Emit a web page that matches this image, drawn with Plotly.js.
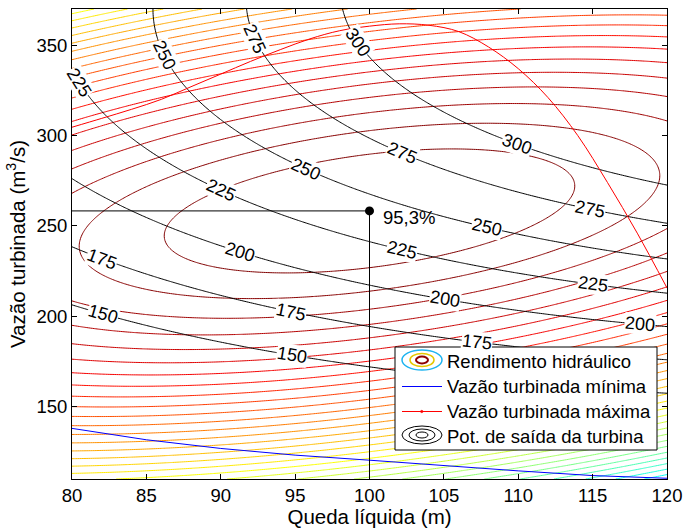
<!DOCTYPE html>
<html><head><meta charset="utf-8">
<script src="https://cdn.plot.ly/plotly-3.0.1.min.js"></script>
<style>body{margin:0;background:#fff}</style>
</head><body><div id="chart" style="width:684px;height:528px"></div>
<script>
// ---- axes ----
const headRange = [80, 120];
const flowRange = [110, 370];
const headTicks = [80, 85, 90, 95, 100, 105, 110, 115, 120];
const flowTicks = [150, 200, 250, 300, 350];

// ---- best efficiency point ----
const bepHead = [100];
const bepFlow = [258.3];
const bepEff = [95.3];
const bepLabel = ["95,3%"];

// ---- efficiency hill (first ring geometry and ring step) ----
const ringHalfWidthHead = [13.8];   // half width of first ring along the head axis (m)
const ringHalfHeightFlow = [31.4];  // half height of first ring at the BEP head (m3/s)
const ringShear = [1.0];            // tilt of the rings (m3/s per m)
const ringStep = [0.85];            // efficiency step between rings (%)
const ringCount = [60];

// ---- turbine output levels (MW) ----
const powerLevels = [150, 175, 200, 225, 250, 275, 300];
// contour labels: level and head where each label sits
const labelLevels = [225, 250, 275, 300, 225, 250, 275, 300, 275, 250, 225, 200, 175, 200, 225, 200, 175, 150, 150, 175];
const labelHeads  = [80.5, 86.2, 92.3, 99.2, 90.0, 95.7, 102.2, 109.9, 114.8, 107.9, 102.2, 91.3, 82.0, 105.1, 115.0, 118.2, 94.7, 82.1, 94.8, 107.2];

// ---- minimum turbined flow ----
const minFlowHead = [80, 85, 90, 95, 100, 105, 110, 115, 120];
const minFlowQ = [138.0, 131.7, 126.9, 123.2, 120.4, 117.4, 114.5, 111.9, 110.4];

// ---- maximum turbined flow ----
const maxFlowHead = [80, 82, 84, 86, 88, 90, 92, 94, 96, 98, 100, 102, 104, 106, 108, 110, 112, 114, 116, 118, 120];
const maxFlowQ = [304.6, 309.5, 314.5, 320, 327, 334, 341, 347.5, 353.5, 358, 360.5, 361.8, 361, 357.5, 349, 337, 321, 300, 274, 246, 215.7];

// ---- legend texts ----
const legendNames = ["Rendimento hidráulico", "Vazão turbinada mínima", "Vazão turbinada máxima", "Pot. de saída da turbina"];

// ---- model surfaces ----
const A = ringStep[0] / (ringHalfWidthHead[0] * ringHalfWidthHead[0]);
const B = ringStep[0] / (ringHalfHeightFlow[0] * ringHalfHeightFlow[0]);
function eff(h, q) {
  const u = h - bepHead[0], v = q - bepFlow[0] - ringShear[0] * u;
  return bepEff[0] - A * u * u - B * v * v;
}
function pow(h, q) { return 9.81 * h * q * eff(h, q) / 100 / 1000; } // P = rho g Q H eta (MW)

const gridH = [], gridQ = [];
for (let h = headRange[0]; h <= headRange[1] + 1e-9; h += 0.25) gridH.push(+h.toFixed(2));
for (let q = flowRange[0]; q <= flowRange[1] + 1e-9; q += 1) gridQ.push(q);
const effZ = gridQ.map(q => gridH.map(h => eff(h, q)));
const powZ = gridQ.map(q => gridH.map(h => pow(h, q)));

const jet = [[0, '#00008F'], [0.125, '#0000FF'], [0.375, '#00FFFF'], [0.625, '#FFFF00'], [0.875, '#FF0000'], [1, '#800000']];
const FONT = 'Liberation Sans, Arial, sans-serif';

const traces = [
  {
    type: 'contour', x: gridH, y: gridQ, z: effZ,
    autocontour: false,
    contours: { coloring: 'lines', start: bepEff[0] - ringCount[0] * ringStep[0], end: bepEff[0] - ringStep[0] + 1e-6, size: ringStep[0] },
    zauto: false, zmin: 54.8, zmax: 95.3, colorscale: jet, showscale: false,
    line: { width: 1, smoothing: 0.8 }, hoverinfo: 'skip', showlegend: false
  },
  {
    type: 'contour', x: gridH, y: gridQ, z: powZ,
    autocontour: false,
    contours: { coloring: 'none', start: powerLevels[0], end: powerLevels[powerLevels.length - 1], size: powerLevels[1] - powerLevels[0], showlabels: false },
    line: { color: '#000', width: 1, smoothing: 0.8 }, showscale: false, hoverinfo: 'skip', showlegend: false
  },
  { type: 'scatter', mode: 'lines', x: minFlowHead, y: minFlowQ, line: { color: '#0000FF', width: 1 }, showlegend: false, hoverinfo: 'skip' },
  { type: 'scatter', mode: 'lines', x: maxFlowHead, y: maxFlowQ, line: { color: '#FF0000', width: 1, shape: 'spline' }, showlegend: false, hoverinfo: 'skip' },
  { type: 'scatter', mode: 'lines', x: [headRange[0], bepHead[0], bepHead[0]], y: [bepFlow[0], bepFlow[0], flowRange[0]], line: { color: '#000', width: 1 }, showlegend: false, hoverinfo: 'skip' },
  { type: 'scatter', mode: 'markers', x: bepHead, y: bepFlow, marker: { color: '#000', size: 9 }, showlegend: false, hoverinfo: 'skip' }
];

// plot-area pixel helpers
const L = 72, R = 667, T = 9, Bt = 479;
const px = p => (p - L) / (R - L);
const py = p => (Bt - p) / (Bt - T);
const sx = (R - L) / (headRange[1] - headRange[0]);
const sy = (Bt - T) / (flowRange[1] - flowRange[0]);

// inline contour labels, placed on the power contours
const annotations = [];
labelLevels.forEach((lev, i) => {
  const h = labelHeads[i];
  let lo = flowRange[0], hi = flowRange[1];
  for (let k = 0; k < 60; k++) { const m = (lo + hi) / 2; if (pow(h, m) < lev) lo = m; else hi = m; }
  const q = (lo + hi) / 2, d = 0.01;
  const Ph = (pow(h + d, q) - pow(h - d, q)) / (2 * d);
  const Pq = (pow(h, q + d) - pow(h, q - d)) / (2 * d);
  const dQdH = -Ph / Pq;
  const ang = Math.atan2(-dQdH * sy, sx) * 180 / Math.PI;
  annotations.push({ x: h, y: q, xref: 'x', yref: 'y', xanchor: 'center', yanchor: 'middle', text: String(lev),
    textangle: ang, showarrow: false, bgcolor: '#fff', borderpad: 0, font: { family: FONT, size: 18, color: '#000' } });
});

const shapes = [
  { type: 'rect', xref: 'paper', yref: 'paper', x0: px(395), x1: px(657), y0: py(450), y1: py(347), fillcolor: '#fff', line: { color: '#000', width: 1 } },
  // efficiency icon
  { type: 'circle', xref: 'paper', yref: 'paper', x0: px(402), x1: px(442), y0: py(370), y1: py(350), line: { color: '#1EB4F0', width: 1.5 } },
  { type: 'circle', xref: 'paper', yref: 'paper', x0: px(410), x1: px(434), y0: py(366.5), y1: py(353.5), line: { color: '#E6C800', width: 1.5 } },
  { type: 'circle', xref: 'paper', yref: 'paper', x0: px(416), x1: px(428), y0: py(363.5), y1: py(356.5), line: { color: '#8C0000', width: 2 } },
  // min flow icon
  { type: 'line', xref: 'paper', yref: 'paper', x0: px(402), x1: px(442), y0: py(386.5), y1: py(386.5), line: { color: '#0000FF', width: 1 } },
  // max flow icon
  { type: 'line', xref: 'paper', yref: 'paper', x0: px(402), x1: px(442), y0: py(411.5), y1: py(411.5), line: { color: '#FF0000', width: 1 } },
  { type: 'circle', xref: 'paper', yref: 'paper', x0: px(420.5), x1: px(423), y0: py(412.7), y1: py(410.3), fillcolor: '#FF0000', line: { color: '#FF0000', width: 0.5 } },
  // power icon
  { type: 'circle', xref: 'paper', yref: 'paper', x0: px(402), x1: px(442), y0: py(444), y1: py(426), line: { color: '#000', width: 1 } },
  { type: 'circle', xref: 'paper', yref: 'paper', x0: px(409), x1: px(435), y0: py(441), y1: py(429), line: { color: '#000', width: 1 } },
  { type: 'circle', xref: 'paper', yref: 'paper', x0: px(416), x1: px(428), y0: py(438), y1: py(432), line: { color: '#000', width: 1 } }
];

const rowY = [361, 386.5, 411.5, 436];
legendNames.forEach((t, i) => annotations.push({
  xref: 'paper', yref: 'paper', x: px(445), y: py(rowY[i]), xanchor: 'left', yanchor: 'middle',
  text: t, showarrow: false, font: { family: FONT, size: 18.5, color: '#000' }
}));
annotations.push({ x: bepHead[0], y: bepFlow[0], xref: 'x', yref: 'y', xanchor: 'left', yanchor: 'middle', xshift: 11, yshift: -7,
  text: bepLabel[0], showarrow: false, font: { family: FONT, size: 18.5, color: '#000' } });

const layout = {
  width: 684, height: 528,
  margin: { l: L, r: 684 - R, t: T, b: 528 - Bt },
  paper_bgcolor: '#fff', plot_bgcolor: '#fff',
  font: { family: FONT, size: 18, color: '#000' },
  showlegend: false,
  xaxis: {
    range: headRange, tickvals: headTicks, ticktext: headTicks.map(String),
    showline: true, linecolor: '#000', linewidth: 1, mirror: 'ticks', ticks: 'inside', ticklen: 5, tickcolor: '#000',
    showgrid: false, zeroline: false, tickfont: { family: FONT, size: 18.5 },
    title: { text: 'Queda líquida (m)', font: { family: FONT, size: 20.5 }, standoff: 2 }
  },
  yaxis: {
    range: flowRange, tickvals: flowTicks, ticktext: flowTicks.map(String),
    showline: true, linecolor: '#000', linewidth: 1, mirror: 'ticks', ticks: 'inside', ticklen: 5, tickcolor: '#000',
    showgrid: false, zeroline: false, tickfont: { family: FONT, size: 18.5 },
    title: { text: 'Vazão turbinada (m<sup>3</sup>/s)', font: { family: FONT, size: 20.5 }, standoff: 5 }
  },
  shapes: shapes,
  annotations: annotations
};

Plotly.newPlot('chart', traces, layout, { staticPlot: true, displayModeBar: false });
</script>
</body></html>
